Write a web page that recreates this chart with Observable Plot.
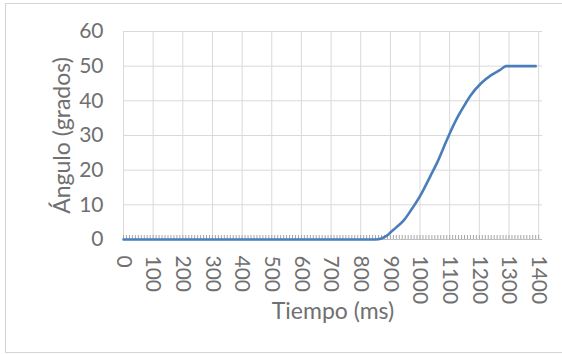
<!DOCTYPE html>
<html><head><meta charset="utf-8">
<script src="https://cdn.jsdelivr.net/npm/d3@7"></script>
<script src="https://cdn.jsdelivr.net/npm/@observablehq/plot@0.6"></script>
<style>
body{margin:0;background:#fff;overflow:hidden;}
#wrap{position:relative;width:562px;height:354px;}
#frame{position:absolute;left:5px;top:3px;width:600px;height:348px;border:1px solid #d4d4d4;pointer-events:none;}
</style></head><body><div id="wrap"><div id="frame"></div></div>
<script>
// Tiempo (ms) and Ángulo (grados)
const timesMs  = [0, 850, 870, 890, 900, 920, 945, 970, 1000, 1035, 1060, 1080, 1100, 1120, 1140, 1170, 1205, 1240, 1270, 1290, 1390];
const angleDeg = [0,   0, 0.3, 1.2, 2.0, 3.5, 5.5, 8.5, 12.5, 18.3, 22.6, 26.6, 30.6, 34.2, 37.3, 41.5,   45, 47.4, 48.9,   50,   50];
const xTickLabels = [0, 100, 200, 300, 400, 500, 600, 700, 800, 900, 1000, 1100, 1200, 1300, 1400];
const yTickLabels = [0, 10, 20, 30, 40, 50, 60];
const minorTickStepMs = 10;
const xTitle = "Tiempo (ms)";
const yTitle = "Ángulo (grados)";

const data = timesMs.map((t, i) => ({t, a: angleDeg[i]}));
const minorTicks = d3.range(0, 1410, minorTickStepMs);
const textColor = "#707070";

const chart = Plot.plot({
  width: 562, height: 354,
  marginLeft: 123, marginRight: 20, marginTop: 31, marginBottom: 115,
  style: {fontFamily: "Lato, 'Open Sans', sans-serif", fontSize: "21px", color: textColor, background: "transparent", overflow: "visible"},
  x: {domain: [0, 1413]},
  y: {domain: [0, 60]},
  marks: [
    Plot.gridX(xTickLabels, {stroke: "#d9d9d9", strokeOpacity: 1}),
    Plot.gridY(yTickLabels, {stroke: "#d9d9d9", strokeOpacity: 1}),
    Plot.ruleY([0], {stroke: "#bfbfbf"}),
    Plot.axisX(minorTicks, {tickSize: -4, text: null, label: null, stroke: "#a6a6a6"}),
    Plot.axisX(xTickLabels, {tickSize: 0, tickPadding: 16, tickRotate: 90, tickFormat: d => String(d), label: null, fill: textColor}),
    Plot.axisY(yTickLabels, {tickSize: 0, tickPadding: 20, tickFormat: d => String(d), label: null, fill: textColor}),
    Plot.text([xTitle], {text: d => d, frameAnchor: "bottom", textAnchor: "middle", lineAnchor: "middle", dy: 72, fontSize: 23, fill: textColor}),
    Plot.text([yTitle], {text: d => d, frameAnchor: "left", textAnchor: "middle", lineAnchor: "middle", dx: -61, rotate: -90, fontSize: 23, fill: textColor}),
    Plot.line(data, {x: "t", y: "a", stroke: "#4a7ebb", strokeWidth: 2.6, curve: "monotone-x"})
  ]
});
document.getElementById("wrap").appendChild(chart);
</script></body></html>
